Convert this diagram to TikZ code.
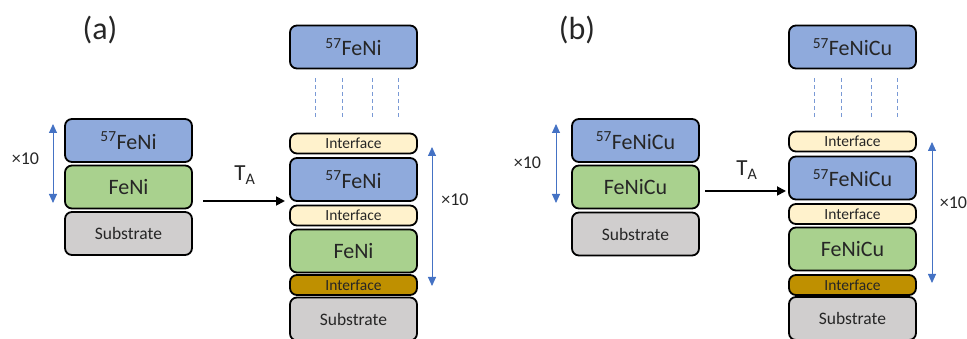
\documentclass[tikz,border=0pt]{standalone}
\usepackage{fontspec}
\setmainfont{Carlito}
\usetikzlibrary{arrows.meta}

\definecolor{fillblue}{HTML}{8FAADC}
\definecolor{fillgreen}{HTML}{A9D18E}
\definecolor{fillgrey}{HTML}{D0CECE}
\definecolor{fillpale}{HTML}{FFF2CC}
\definecolor{fillgold}{HTML}{BF9000}
\definecolor{arrowblue}{HTML}{4472C4}
\definecolor{inkgrey}{HTML}{262626}

\begin{document}
\begin{tikzpicture}[x=1pt, y=-1pt, line width=1.8pt,
	layer/.style={draw=black, rounded corners=7pt, minimum width=127pt, inner sep=0pt, text=inkgrey},
	thick layer/.style={layer, minimum height=43pt, font=\fontsize{22}{26}\selectfont},
	base layer/.style={layer, minimum height=43pt, fill=fillgrey, font=\fontsize{17.5}{21}\selectfont},
	thin layer/.style={layer, minimum height=20pt, font=\fontsize{15.5}{18}\selectfont},
	tag/.style={text=inkgrey, font=\fontsize{18}{21}\selectfont},
	period/.style={draw=arrowblue, line width=0.9pt, {Triangle[width=8pt,length=9pt]}-{Triangle[width=8pt,length=9pt]}},
	guide/.style={draw=fillblue!70!arrowblue, line width=1pt, dash pattern=on 4pt off 3pt, shorten <=9pt, shorten >=13pt},
	anneal/.style={draw=black, line width=1.8pt, -{Triangle[width=9pt,length=9pt]}},
	]
	
	\useasboundingbox (0,0) rectangle (967,339);
	
	% ----- (a) -----
	\node[text=inkgrey, font=\fontsize{32}{38}\selectfont] (alabel) at (100,30) {(a)};
	
	\node[thick layer, fill=fillblue] (aiso) at (128.5,140.5) {\textsuperscript{57}FeNi};
	\node[thick layer, fill=fillgreen] (aalloy) at (128.5,187) {FeNi};
	\node[base layer] (asub) at (128.5,233.5) {Substrate};
	
	\coordinate (aup) at (53,124);
	\coordinate (adown) at (53,203);
	\draw[period] (aup) -- (adown);
	\node[tag] (atimes) at (25.5,159) {×10};
	
	\coordinate (afrom) at (203,201);
	\coordinate (ato) at (285,201);
	\draw[anneal] (afrom) -- (ato);
	\node[text=inkgrey, font=\fontsize{23}{27}\selectfont] (aTA) at (245,175) {T\textsubscript{A}};
	
	\node[thick layer, fill=fillblue] (atop) at (353.5,47) {\textsuperscript{57}FeNi};
	\node[thin layer, fill=fillpale] (aif1) at (353.5,143.5) {Interface};
	\node[thick layer, fill=fillblue] (aiso2) at (353.5,179.5) {\textsuperscript{57}FeNi};
	\node[thin layer, fill=fillpale] (aif2) at (353.5,215.5) {Interface};
	\node[thick layer, fill=fillgreen] (aalloy2) at (353.5,251) {FeNi};
	\node[thin layer, fill=fillgold] (aif3) at (353.5,285) {Interface};
	\node[base layer] (asub2) at (353.5,319) {Substrate};
	
	\draw[guide] ([xshift=-38.5pt]atop.south) -- ([xshift=-38.5pt]aif1.north);
	\draw[guide] ([xshift=-11.5pt]atop.south) -- ([xshift=-11.5pt]aif1.north);
	\draw[guide] ([xshift=18.5pt]atop.south) -- ([xshift=18.5pt]aif1.north);
	\draw[guide] ([xshift=44.5pt]atop.south) -- ([xshift=44.5pt]aif1.north);
	
	\coordinate (aup2) at (432,147);
	\coordinate (adown2) at (432,286);
	\draw[period] (aup2) -- (adown2);
	\node[tag] (atimes2) at (455,200) {×10};
	
	% ----- (b) -----
	\node[text=inkgrey, font=\fontsize{32}{38}\selectfont] (blabel) at (577,30) {(b)};
	
	\node[thick layer, fill=fillblue] (biso) at (635.5,140.5) {\textsuperscript{57}FeNiCu};
	\node[thick layer, fill=fillgreen] (balloy) at (635.5,187) {FeNiCu};
	\node[base layer] (bsub) at (635.5,234) {Substrate};
	
	\coordinate (bup) at (556,124);
	\coordinate (bdown) at (556,203);
	\draw[period] (bup) -- (bdown);
	\node[tag] (btimes) at (527.5,163) {×10};
	
	\coordinate (bfrom) at (705,191);
	\coordinate (bto) at (786,191);
	\draw[anneal] (bfrom) -- (bto);
	\node[text=inkgrey, font=\fontsize{23}{27}\selectfont] (bTA) at (747,170) {T\textsubscript{A}};
	
	\node[thick layer, fill=fillblue] (btop) at (852.5,47) {\textsuperscript{57}FeNiCu};
	\node[thin layer, fill=fillpale] (bif1) at (852.5,141.5) {Interface};
	\node[thick layer, fill=fillblue] (biso2) at (852.5,178) {\textsuperscript{57}FeNiCu};
	\node[thin layer, fill=fillpale] (bif2) at (852.5,214) {Interface};
	\node[thick layer, fill=fillgreen] (balloy2) at (852.5,249) {FeNiCu};
	\node[thin layer, fill=fillgold] (bif3) at (852.5,285) {Interface};
	\node[base layer] (bsub2) at (852.5,318.5) {Substrate};
	
	\draw[guide] ([xshift=-38.5pt]btop.south) -- ([xshift=-38.5pt]bif1.north);
	\draw[guide] ([xshift=-11.5pt]btop.south) -- ([xshift=-11.5pt]bif1.north);
	\draw[guide] ([xshift=18.5pt]btop.south) -- ([xshift=18.5pt]bif1.north);
	\draw[guide] ([xshift=44.5pt]btop.south) -- ([xshift=44.5pt]bif1.north);
	
	\coordinate (bup2) at (932,142);
	\coordinate (bdown2) at (932,283);
	\draw[period] (bup2) -- (bdown2);
	\node[tag] (btimes2) at (953.5,203) {×10};
	
\end{tikzpicture}
\end{document}
